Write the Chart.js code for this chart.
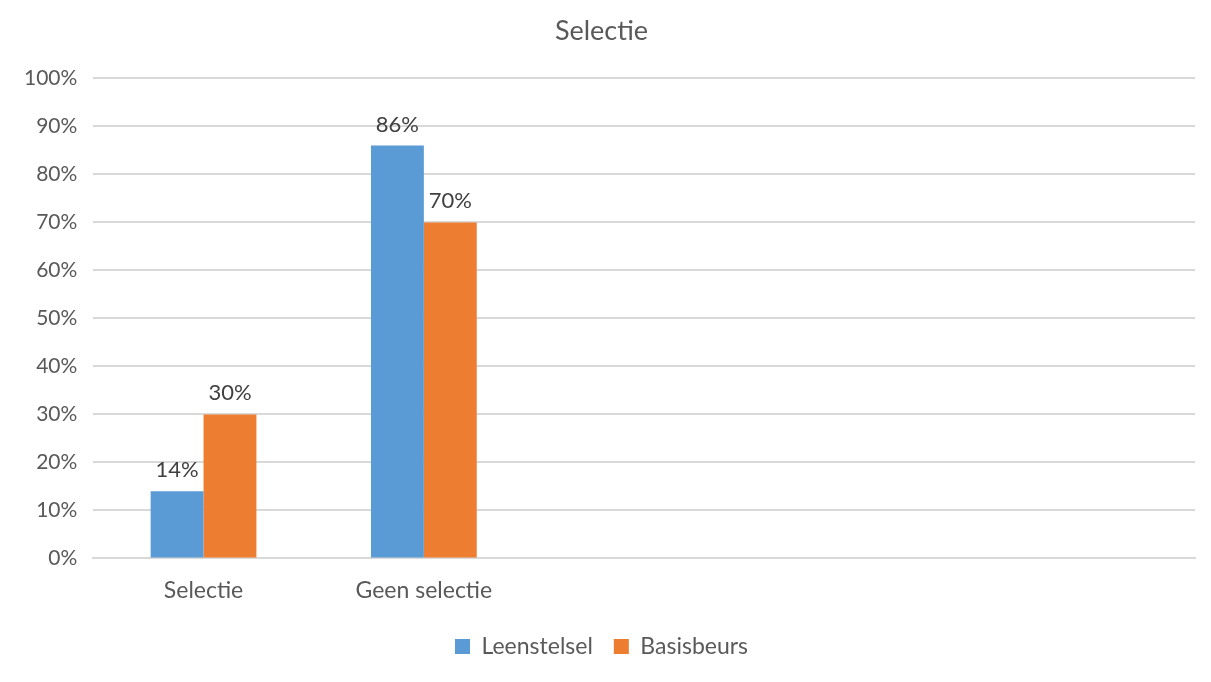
<!DOCTYPE html>
<html>
<head>
<meta charset="utf-8">
<script src="https://cdn.jsdelivr.net/npm/chart.js@4.4.0/dist/chart.umd.min.js"></script>
<style>
  html, body { margin: 0; padding: 0; background: #fff; }
  #wrap { width: 1211px; height: 682px; }
</style>
</head>
<body>
<div id="wrap"><canvas id="chartSelectie"></canvas></div>
<script>
// data
const categories  = ["Selectie", "Geen selectie", "", "", ""];
const leenstelsel = [14, 86, null, null, null];
const basisbeurs  = [30, 70, null, null, null];
const yTicks      = [0, 10, 20, 30, 40, 50, 60, 70, 80, 90, 100];

const FONT = "Lato, 'Open Sans', sans-serif";
const TEXT = "#595959";

// value labels above each bar
const barLabels = {
  id: "barLabels",
  afterDatasetsDraw(chart) {
    const ctx = chart.ctx;
    ctx.save();
    ctx.font = "22px " + FONT;
    ctx.fillStyle = "#404040";
    ctx.textAlign = "center";
    ctx.textBaseline = "bottom";
    chart.data.datasets.forEach((ds, i) => {
      chart.getDatasetMeta(i).data.forEach((bar, j) => {
        const v = ds.data[j];
        if (v == null) return;
        ctx.fillText(v + "%", bar.x, bar.y - 10);
      });
    });
    ctx.restore();
  }
};

new Chart(document.getElementById("chartSelectie"), {
  type: "bar",
  data: {
    labels: categories,
    datasets: [
      { label: "Leenstelsel", data: leenstelsel, backgroundColor: "#5B9BD5" },
      { label: "Basisbeurs",  data: basisbeurs,  backgroundColor: "#ED7D31" }
    ]
  },
  options: {
    responsive: true,
    maintainAspectRatio: false,
    animation: false,
    devicePixelRatio: 1,
    layout: { padding: { left: 8, right: 16, top: 15, bottom: 14 } },
    datasets: { bar: { categoryPercentage: 0.48, barPercentage: 1 } },
    plugins: {
      title: {
        display: true, text: "Selectie", color: TEXT,
        font: { family: FONT, size: 27, weight: "normal" }, padding: { top: 0, bottom: 31 }
      },
      legend: {
        position: "bottom",
        labels: {
          color: TEXT, font: { family: FONT, size: 23 },
          boxWidth: 15, boxHeight: 15, padding: 21
        }
      },
      tooltip: { enabled: false }
    },
    scales: {
      x: {
        grid: { display: false },
        border: { color: "#D9D9D9", width: 2 },
        ticks: { color: TEXT, font: { family: FONT, size: 23 }, padding: 10 }
      },
      y: {
        min: 0, max: 100,
        afterBuildTicks: axis => { axis.ticks = yTicks.map(v => ({ value: v })); },
        grid: { color: "#D9D9D9", lineWidth: 2, drawTicks: false },
        border: { display: false },
        ticks: {
          color: TEXT, font: { family: FONT, size: 21 }, padding: 16,
          callback: v => v + "%"
        }
      }
    }
  },
  plugins: [barLabels]
});
</script>
</body>
</html>
